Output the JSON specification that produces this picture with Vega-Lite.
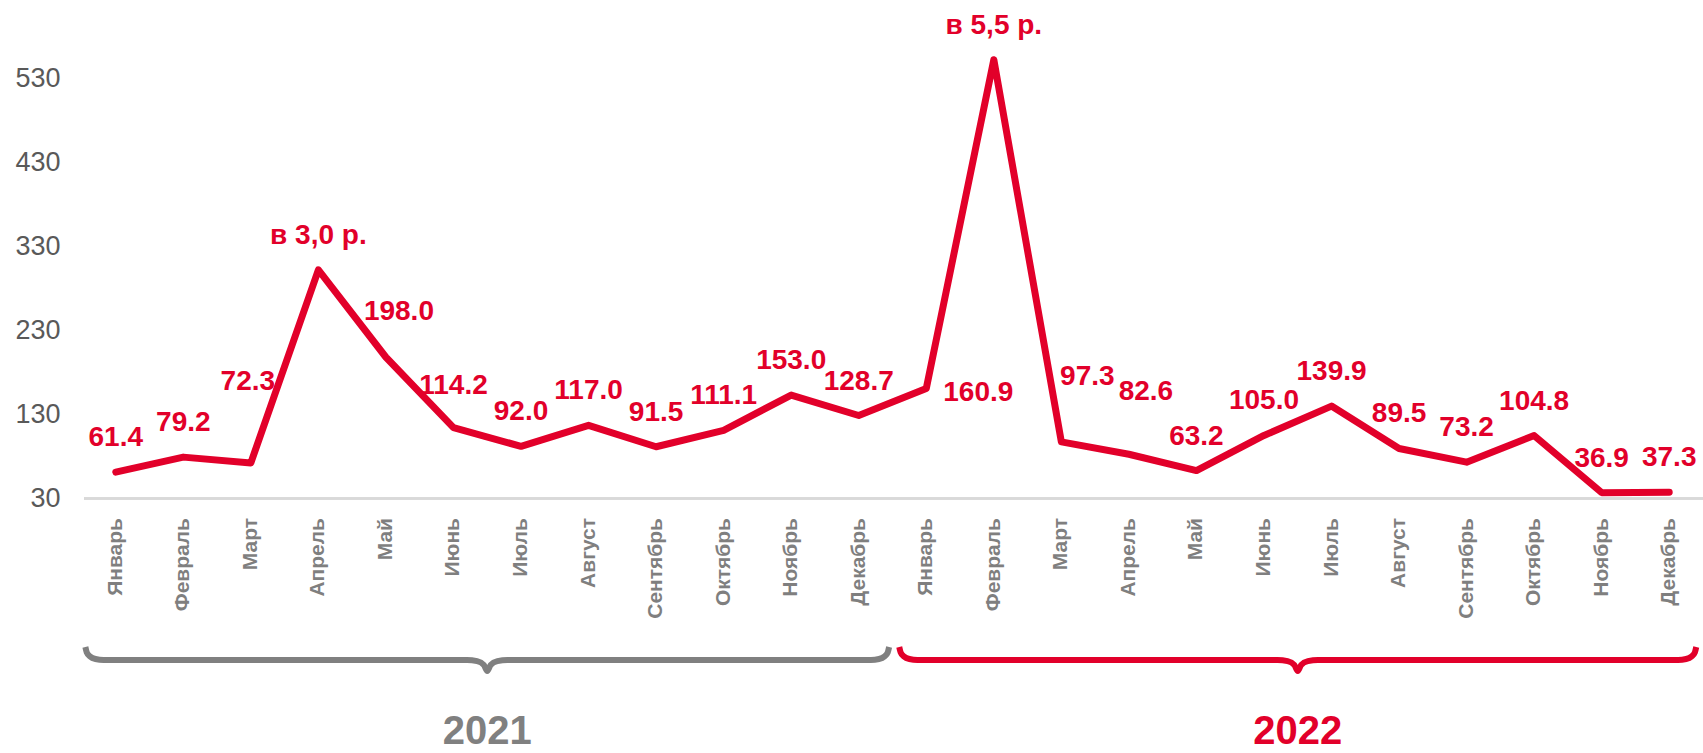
{
  "$schema": "https://vega.github.io/schema/vega-lite/v6.json",
  "width": 1621,
  "height": 753,
  "autosize": {"type": "none"},
  "padding": {"left": 82, "top": 0, "right": 0, "bottom": 0},
  "background": "white",
  "config": {"view": {"stroke": null}, "font": "Liberation Sans"},
  "datasets": {
    "series": [
      {"i": 0, "year": "2021", "month": "Январь", "value": 61.4, "label": "61.4"},
      {"i": 1, "year": "2021", "month": "Февраль", "value": 79.2, "label": "79.2"},
      {"i": 2, "year": "2021", "month": "Март", "value": 72.3, "label": "72.3"},
      {"i": 3, "year": "2021", "month": "Апрель", "value": 302, "label": "в 3,0 р."},
      {"i": 4, "year": "2021", "month": "Май", "value": 198.0, "label": "198.0"},
      {"i": 5, "year": "2021", "month": "Июнь", "value": 114.2, "label": "114.2"},
      {"i": 6, "year": "2021", "month": "Июль", "value": 92.0, "label": "92.0"},
      {"i": 7, "year": "2021", "month": "Август", "value": 117.0, "label": "117.0"},
      {"i": 8, "year": "2021", "month": "Сентябрь", "value": 91.5, "label": "91.5"},
      {"i": 9, "year": "2021", "month": "Октябрь", "value": 111.1, "label": "111.1"},
      {"i": 10, "year": "2021", "month": "Ноябрь", "value": 153.0, "label": "153.0"},
      {"i": 11, "year": "2021", "month": "Декабрь", "value": 128.7, "label": "128.7"},
      {"i": 12, "year": "2022", "month": "Январь", "value": 160.9, "label": "160.9"},
      {"i": 13, "year": "2022", "month": "Февраль", "value": 552, "label": "в 5,5 р."},
      {"i": 14, "year": "2022", "month": "Март", "value": 97.3, "label": "97.3"},
      {"i": 15, "year": "2022", "month": "Апрель", "value": 82.6, "label": "82.6"},
      {"i": 16, "year": "2022", "month": "Май", "value": 63.2, "label": "63.2"},
      {"i": 17, "year": "2022", "month": "Июнь", "value": 105.0, "label": "105.0"},
      {"i": 18, "year": "2022", "month": "Июль", "value": 139.9, "label": "139.9"},
      {"i": 19, "year": "2022", "month": "Август", "value": 89.5, "label": "89.5"},
      {"i": 20, "year": "2022", "month": "Сентябрь", "value": 73.2, "label": "73.2"},
      {"i": 21, "year": "2022", "month": "Октябрь", "value": 104.8, "label": "104.8"},
      {"i": 22, "year": "2022", "month": "Ноябрь", "value": 36.9, "label": "36.9"},
      {"i": 23, "year": "2022", "month": "Декабрь", "value": 37.3, "label": "37.3"}
    ],
    "years": [
      {"year": "2021", "center": 5.5},
      {"year": "2022", "center": 17.5}
    ],
    "braces": [
      {"year": "2021", "x": -0.45, "y": -146.7},
      {"year": "2021", "x": -0.43, "y": -153},
      {"year": "2021", "x": -0.38, "y": -158},
      {"year": "2021", "x": -0.3, "y": -161},
      {"year": "2021", "x": -0.18, "y": -162.1},
      {"year": "2021", "x": 5.2, "y": -162.1},
      {"year": "2021", "x": 5.35, "y": -163.5},
      {"year": "2021", "x": 5.45, "y": -168},
      {"year": "2021", "x": 5.5, "y": -175.2},
      {"year": "2021", "x": 5.55, "y": -168},
      {"year": "2021", "x": 5.65, "y": -163.5},
      {"year": "2021", "x": 5.8, "y": -162.1},
      {"year": "2021", "x": 11.18, "y": -162.1},
      {"year": "2021", "x": 11.3, "y": -161},
      {"year": "2021", "x": 11.38, "y": -158},
      {"year": "2021", "x": 11.43, "y": -153},
      {"year": "2021", "x": 11.45, "y": -146.7},
      {"year": "2022", "x": 11.6, "y": -146.7},
      {"year": "2022", "x": 11.62, "y": -153},
      {"year": "2022", "x": 11.67, "y": -158},
      {"year": "2022", "x": 11.75, "y": -161},
      {"year": "2022", "x": 11.87, "y": -162.1},
      {"year": "2022", "x": 17.2, "y": -162.1},
      {"year": "2022", "x": 17.35, "y": -163.5},
      {"year": "2022", "x": 17.45, "y": -168},
      {"year": "2022", "x": 17.5, "y": -175.2},
      {"year": "2022", "x": 17.55, "y": -168},
      {"year": "2022", "x": 17.65, "y": -163.5},
      {"year": "2022", "x": 17.8, "y": -162.1},
      {"year": "2022", "x": 23.13, "y": -162.1},
      {"year": "2022", "x": 23.25, "y": -161},
      {"year": "2022", "x": 23.33, "y": -158},
      {"year": "2022", "x": 23.38, "y": -153},
      {"year": "2022", "x": 23.4, "y": -146.7}
    ]
  },
  "layer": [
    {
      "data": {"name": "series"},
      "mark": {"type": "rule", "color": "#d9d9d9", "strokeWidth": 2},
      "encoding": {
        "x": {"datum": -0.47, "type": "quantitative", "scale": {"domain": [-0.5, 23.5], "nice": false, "zero": false}, "axis": null},
        "x2": {"datum": 23.5},
        "y": {"datum": 30, "type": "quantitative", "scale": {"domain": [-272.8, 623], "nice": false, "zero": false},
          "axis": {"values": [30, 130, 230, 330, 430, 530], "grid": false, "domain": false, "ticks": false, "tickSize": 0, "labelPadding": 22, "labelFontSize": 27, "labelColor": "#595959", "labelFont": "Liberation Sans", "title": null, "minExtent": 82, "maxExtent": 82}}
      }
    },
    {
      "data": {"name": "series"},
      "mark": {"type": "line", "color": "#e2002a", "strokeWidth": 7, "strokeCap": "round", "strokeJoin": "round"},
      "encoding": {
        "x": {"field": "i", "type": "quantitative", "scale": {"domain": [-0.5, 23.5], "nice": false, "zero": false}, "axis": null},
        "y": {"field": "value", "type": "quantitative", "scale": {"domain": [-272.8, 623], "nice": false, "zero": false},
          "axis": {"values": [30, 130, 230, 330, 430, 530], "grid": false, "domain": false, "ticks": false, "tickSize": 0, "labelPadding": 22, "labelFontSize": 27, "labelColor": "#595959", "labelFont": "Liberation Sans", "title": null, "minExtent": 82, "maxExtent": 82}}
      }
    },
    {
      "data": {"name": "series"},
      "transform": [{"filter": {"not": {"field": "i", "oneOf": [2, 4, 5, 12, 14, 15]}}}],
      "mark": {"type": "text", "color": "#e2002a", "fontSize": 28, "fontWeight": "bold", "align": "center", "baseline": "middle", "dy": -34},
      "encoding": {
        "x": {"field": "i", "type": "quantitative", "scale": {"domain": [-0.5, 23.5], "nice": false, "zero": false}, "axis": null},
        "y": {"field": "value", "type": "quantitative", "scale": {"domain": [-272.8, 623], "nice": false, "zero": false},
          "axis": {"values": [30, 130, 230, 330, 430, 530], "grid": false, "domain": false, "ticks": false, "tickSize": 0, "labelPadding": 22, "labelFontSize": 27, "labelColor": "#595959", "labelFont": "Liberation Sans", "title": null, "minExtent": 82, "maxExtent": 82}},
        "text": {"field": "label"}
      }
    },
    {
      "data": {"name": "series"},
      "transform": [{"filter": {"field": "i", "oneOf": [2]}}],
      "mark": {"type": "text", "color": "#e2002a", "fontSize": 28, "fontWeight": "bold", "align": "center", "baseline": "middle", "dy": -81, "dx": -3},
      "encoding": {
        "x": {"field": "i", "type": "quantitative", "scale": {"domain": [-0.5, 23.5], "nice": false, "zero": false}, "axis": null},
        "y": {"field": "value", "type": "quantitative", "scale": {"domain": [-272.8, 623], "nice": false, "zero": false},
          "axis": {"values": [30, 130, 230, 330, 430, 530], "grid": false, "domain": false, "ticks": false, "tickSize": 0, "labelPadding": 22, "labelFontSize": 27, "labelColor": "#595959", "labelFont": "Liberation Sans", "title": null, "minExtent": 82, "maxExtent": 82}},
        "text": {"field": "label"}
      }
    },
    {
      "data": {"name": "series"},
      "transform": [{"filter": {"field": "i", "oneOf": [4]}}],
      "mark": {"type": "text", "color": "#e2002a", "fontSize": 28, "fontWeight": "bold", "align": "center", "baseline": "middle", "dy": -45, "dx": 13},
      "encoding": {
        "x": {"field": "i", "type": "quantitative", "scale": {"domain": [-0.5, 23.5], "nice": false, "zero": false}, "axis": null},
        "y": {"field": "value", "type": "quantitative", "scale": {"domain": [-272.8, 623], "nice": false, "zero": false},
          "axis": {"values": [30, 130, 230, 330, 430, 530], "grid": false, "domain": false, "ticks": false, "tickSize": 0, "labelPadding": 22, "labelFontSize": 27, "labelColor": "#595959", "labelFont": "Liberation Sans", "title": null, "minExtent": 82, "maxExtent": 82}},
        "text": {"field": "label"}
      }
    },
    {
      "data": {"name": "series"},
      "transform": [{"filter": {"field": "i", "oneOf": [5]}}],
      "mark": {"type": "text", "color": "#e2002a", "fontSize": 28, "fontWeight": "bold", "align": "center", "baseline": "middle", "dy": -42},
      "encoding": {
        "x": {"field": "i", "type": "quantitative", "scale": {"domain": [-0.5, 23.5], "nice": false, "zero": false}, "axis": null},
        "y": {"field": "value", "type": "quantitative", "scale": {"domain": [-272.8, 623], "nice": false, "zero": false},
          "axis": {"values": [30, 130, 230, 330, 430, 530], "grid": false, "domain": false, "ticks": false, "tickSize": 0, "labelPadding": 22, "labelFontSize": 27, "labelColor": "#595959", "labelFont": "Liberation Sans", "title": null, "minExtent": 82, "maxExtent": 82}},
        "text": {"field": "label"}
      }
    },
    {
      "data": {"name": "series"},
      "transform": [{"filter": {"field": "i", "oneOf": [12]}}],
      "mark": {"type": "text", "color": "#e2002a", "fontSize": 28, "fontWeight": "bold", "align": "center", "baseline": "middle", "dy": 5, "dx": 52},
      "encoding": {
        "x": {"field": "i", "type": "quantitative", "scale": {"domain": [-0.5, 23.5], "nice": false, "zero": false}, "axis": null},
        "y": {"field": "value", "type": "quantitative", "scale": {"domain": [-272.8, 623], "nice": false, "zero": false},
          "axis": {"values": [30, 130, 230, 330, 430, 530], "grid": false, "domain": false, "ticks": false, "tickSize": 0, "labelPadding": 22, "labelFontSize": 27, "labelColor": "#595959", "labelFont": "Liberation Sans", "title": null, "minExtent": 82, "maxExtent": 82}},
        "text": {"field": "label"}
      }
    },
    {
      "data": {"name": "series"},
      "transform": [{"filter": {"field": "i", "oneOf": [14]}}],
      "mark": {"type": "text", "color": "#e2002a", "fontSize": 28, "fontWeight": "bold", "align": "center", "baseline": "middle", "dy": -65, "dx": 26},
      "encoding": {
        "x": {"field": "i", "type": "quantitative", "scale": {"domain": [-0.5, 23.5], "nice": false, "zero": false}, "axis": null},
        "y": {"field": "value", "type": "quantitative", "scale": {"domain": [-272.8, 623], "nice": false, "zero": false},
          "axis": {"values": [30, 130, 230, 330, 430, 530], "grid": false, "domain": false, "ticks": false, "tickSize": 0, "labelPadding": 22, "labelFontSize": 27, "labelColor": "#595959", "labelFont": "Liberation Sans", "title": null, "minExtent": 82, "maxExtent": 82}},
        "text": {"field": "label"}
      }
    },
    {
      "data": {"name": "series"},
      "transform": [{"filter": {"field": "i", "oneOf": [15]}}],
      "mark": {"type": "text", "color": "#e2002a", "fontSize": 28, "fontWeight": "bold", "align": "center", "baseline": "middle", "dy": -62, "dx": 17},
      "encoding": {
        "x": {"field": "i", "type": "quantitative", "scale": {"domain": [-0.5, 23.5], "nice": false, "zero": false}, "axis": null},
        "y": {"field": "value", "type": "quantitative", "scale": {"domain": [-272.8, 623], "nice": false, "zero": false},
          "axis": {"values": [30, 130, 230, 330, 430, 530], "grid": false, "domain": false, "ticks": false, "tickSize": 0, "labelPadding": 22, "labelFontSize": 27, "labelColor": "#595959", "labelFont": "Liberation Sans", "title": null, "minExtent": 82, "maxExtent": 82}},
        "text": {"field": "label"}
      }
    },
    {
      "data": {"name": "series"},
      "mark": {"type": "text", "color": "#7f7f7f", "fontSize": 21, "fontWeight": "bold", "angle": 270, "align": "right", "baseline": "middle"},
      "encoding": {
        "x": {"field": "i", "type": "quantitative", "scale": {"domain": [-0.5, 23.5], "nice": false, "zero": false}, "axis": null},
        "y": {"datum": 6.8, "type": "quantitative", "scale": {"domain": [-272.8, 623], "nice": false, "zero": false},
          "axis": {"values": [30, 130, 230, 330, 430, 530], "grid": false, "domain": false, "ticks": false, "tickSize": 0, "labelPadding": 22, "labelFontSize": 27, "labelColor": "#595959", "labelFont": "Liberation Sans", "title": null, "minExtent": 82, "maxExtent": 82}},
        "text": {"field": "month"}
      }
    },
    {
      "data": {"name": "braces"},
      "mark": {"type": "line", "strokeWidth": 6, "interpolate": "monotone", "strokeCap": "butt"},
      "encoding": {
        "x": {"field": "x", "type": "quantitative", "scale": {"domain": [-0.5, 23.5], "nice": false, "zero": false}, "axis": null},
        "y": {"field": "y", "type": "quantitative", "scale": {"domain": [-272.8, 623], "nice": false, "zero": false},
          "axis": {"values": [30, 130, 230, 330, 430, 530], "grid": false, "domain": false, "ticks": false, "tickSize": 0, "labelPadding": 22, "labelFontSize": 27, "labelColor": "#595959", "labelFont": "Liberation Sans", "title": null, "minExtent": 82, "maxExtent": 82}},
        "color": {"field": "year", "type": "nominal", "scale": {"domain": ["2021", "2022"], "range": ["#808080", "#e2002a"]}, "legend": null}
      }
    },
    {
      "data": {"name": "years"},
      "mark": {"type": "text", "fontSize": 40, "fontWeight": "bold", "align": "center", "baseline": "alphabetic"},
      "encoding": {
        "x": {"field": "center", "type": "quantitative", "scale": {"domain": [-0.5, 23.5], "nice": false, "zero": false}, "axis": null},
        "y": {"datum": -262.1, "type": "quantitative", "scale": {"domain": [-272.8, 623], "nice": false, "zero": false},
          "axis": {"values": [30, 130, 230, 330, 430, 530], "grid": false, "domain": false, "ticks": false, "tickSize": 0, "labelPadding": 22, "labelFontSize": 27, "labelColor": "#595959", "labelFont": "Liberation Sans", "title": null, "minExtent": 82, "maxExtent": 82}},
        "text": {"field": "year"},
        "color": {"field": "year", "type": "nominal", "scale": {"domain": ["2021", "2022"], "range": ["#808080", "#e2002a"]}, "legend": null}
      }
    }
  ]
}
